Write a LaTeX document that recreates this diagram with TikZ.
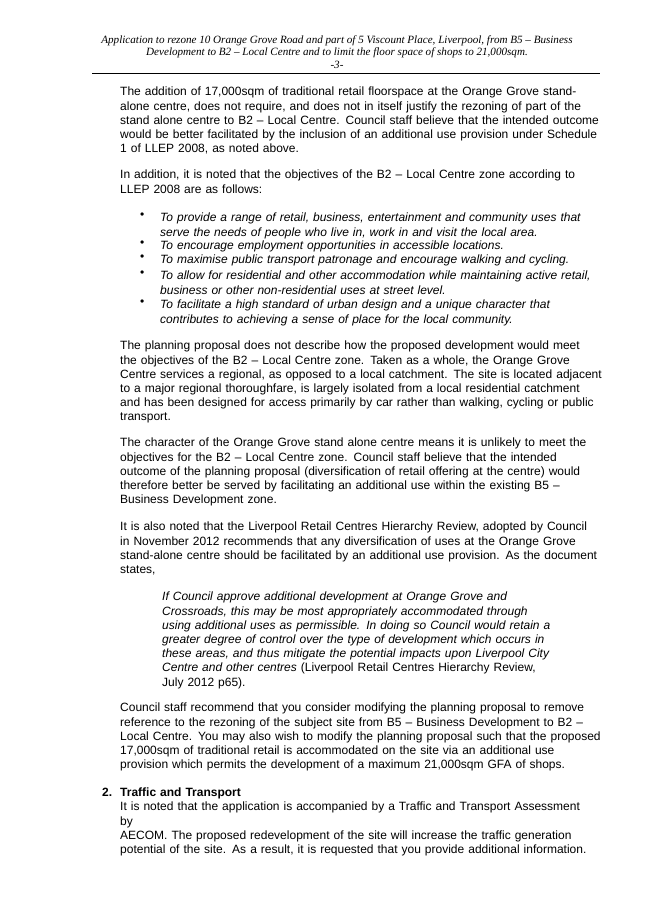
\documentclass[tikz,border=0pt]{standalone}
\usepackage{fontspec}
\setmainfont{Liberation Sans}
\newfontfamily\hdrfont{Liberation Serif}
\newcommand\J[1]{\makebox[\curw][s]{#1}}
\def\curw{476pt}
\begin{document}
\begin{tikzpicture}[x=1pt,y=-1pt,
  para/.style={anchor=north west,inner sep=0pt,text width=476pt,align=left,font=\fontsize{12}{14.2}\selectfont\def\curw{476pt}},
  bul/.style={anchor=north west,inner sep=0pt,text width=436pt,align=left,font=\fontsize{12}{14.2}\selectfont\itshape\def\curw{436pt}},
  quo/.style={anchor=north west,inner sep=0pt,text width=391pt,align=left,font=\fontsize{12}{14.2}\selectfont\itshape\def\curw{391pt}},
  dot/.style={anchor=north west,inner sep=0pt,font=\fontsize{12}{14.2}\selectfont}]
\fill[white] (0,0) rectangle (653,922);
\node[inner sep=0pt,align=center,font=\hdrfont\itshape\fontsize{11.1}{12.5}\selectfont] (hdr) at (337,52)
 {Application to rezone 10 Orange Grove Road and part of 5 Viscount Place, Liverpool, from B5 – Business\\
  Development to B2 – Local Centre and to limit the floor space of shops to 21,000sqm.\\ -3-};
\coordinate (rl) at (92,73); \coordinate (rr) at (600,73);
\draw[line width=0.8pt] (rl) -- (rr);
\node[para] (p1) at (120,87) {\J{The addition of 17,000sqm of traditional retail floorspace at the Orange Grove stand-}\\
\J{alone centre, does not require, and does not in itself justify the rezoning of part of the}\\
\J{stand alone centre to B2 – Local Centre. Council staff believe that the intended outcome}\\
\J{would be better facilitated by the inclusion of an additional use provision under Schedule}\\
1 of LLEP 2008, as noted above.};
\node[para] (p2) at (120,170) {\J{In addition, it is noted that the objectives of the B2 – Local Centre zone according to}\\
LLEP 2008 are as follows:};
\node[dot] (d1) at (140,213) {•};
\node[bul] (b1) at (160,213) {\J{To provide a range of retail, business, entertainment and community uses that}\\ serve the needs of people who live in, work in and visit the local area.};
\node[dot] (d2) at (140,241) {•};
\node[bul] (b2) at (160,241) {To encourage employment opportunities in accessible locations.};
\node[dot] (d3) at (140,255) {•};
\node[bul] (b3) at (160,255) {To maximise public transport patronage and encourage walking and cycling.};
\node[dot] (d4) at (140,271) {•};
\node[bul] (b4) at (160,271) {\J{To allow for residential and other accommodation while maintaining active retail,}\\ business or other non-residential uses at street level.};
\node[dot] (d5) at (140,300) {•};
\node[bul] (b5) at (160,300) {\J{To facilitate a high standard of urban design and a unique character that}\\ contributes to achieving a sense of place for the local community.};
\node[para] (p3) at (120,341) {\J{The planning proposal does not describe how the proposed development would meet}\\
\J{the objectives of the B2 – Local Centre zone. Taken as a whole, the Orange Grove}\\
\J{Centre services a regional, as opposed to a local catchment. The site is located adjacent}\\
\J{to a major regional thoroughfare, is largely isolated from a local residential catchment}\\
\J{and has been designed for access primarily by car rather than walking, cycling or public}\\
transport.};
\node[para] (p4) at (120,438) {\J{The character of the Orange Grove stand alone centre means it is unlikely to meet the}\\
\J{objectives for the B2 – Local Centre zone. Council staff believe that the intended}\\
\J{outcome of the planning proposal (diversification of retail offering at the centre) would}\\
\J{therefore better be served by facilitating an additional use within the existing B5 –}\\
Business Development zone.};
\node[para] (p5) at (120,522) {\J{It is also noted that the Liverpool Retail Centres Hierarchy Review, adopted by Council}\\
\J{in November 2012 recommends that any diversification of uses at the Orange Grove}\\
\J{stand-alone centre should be facilitated by an additional use provision. As the document}\\
states,};
\node[quo] (q) at (162,592) {\J{If Council approve additional development at Orange Grove and}\\
\J{Crossroads, this may be most appropriately accommodated through}\\
\J{using additional uses as permissible. In doing so Council would retain a}\\
\J{greater degree of control over the type of development which occurs in}\\
\J{these areas, and thus mitigate the potential impacts upon Liverpool City}\\
\J{Centre and other centres \upshape(Liverpool Retail Centres Hierarchy Review,}\\
\upshape July 2012 p65).};
\node[para] (p6) at (120,703) {\J{Council staff recommend that you consider modifying the planning proposal to remove}\\
\J{reference to the rezoning of the subject site from B5 – Business Development to B2 –}\\
\J{Local Centre. You may also wish to modify the planning proposal such that the proposed}\\
\J{17,000sqm of traditional retail is accommodated on the site via an additional use}\\
provision which permits the development of a maximum 21,000sqm GFA of shops.};
\node[dot,font=\fontsize{12}{14.2}\selectfont\bfseries] (n2) at (102,788) {2.};
\node[para,font=\fontsize{12}{14.2}\selectfont\bfseries] (h2) at (120,788) {Traffic and Transport};
\node[para] (p7) at (120,802) {It is noted that the application is accompanied by a Traffic and Transport Assessment by\\
AECOM. The proposed redevelopment of the site will increase the traffic generation\\
potential of the site. As a result, it is requested that you provide additional information.};
\end{tikzpicture}
\end{document}
